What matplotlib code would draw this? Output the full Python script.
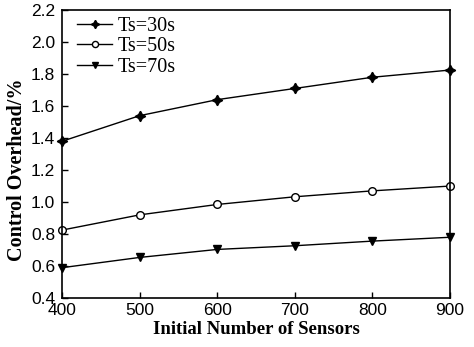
import matplotlib
matplotlib.use('Agg')
import matplotlib.pyplot as plt

sensors = [400, 500, 600, 700, 800, 900]
ts30 = [1.38, 1.54, 1.64, 1.71, 1.78, 1.825]
ts50 = [0.825, 0.92, 0.985, 1.033, 1.07, 1.10]
ts70 = [0.59, 0.654, 0.704, 0.727, 0.756, 0.78]
labels = ['Ts=30s', 'Ts=50s', 'Ts=70s']

fig = plt.figure(figsize=(4.74, 3.47), dpi=100)
ax = fig.add_axes([0.131, 0.141, 0.818, 0.83])

ax.plot(sensors, ts30, color='black', lw=1.0, marker=(4, 1, 0), ms=7.5, label=labels[0], clip_on=False)
ax.plot(sensors, ts50, color='black', lw=1.0, marker='o', ms=5.5, mfc='white', mew=1.0, label=labels[1], clip_on=False)
ax.plot(sensors, ts70, color='black', lw=1.0, marker='v', ms=6, label=labels[2], clip_on=False)

ax.set_xlim(400, 900)
ax.set_ylim(0.4, 2.2)
ax.set_xticks(sensors)
ax.set_yticks([0.4, 0.6, 0.8, 1.0, 1.2, 1.4, 1.6, 1.8, 2.0, 2.2])
ax.set_yticklabels(['0.4', '0.6', '0.8', '1.0', '1.2', '1.4', '1.6', '1.8', '2.0', '2.2'])
ax.tick_params(direction='in', length=4, width=1, top=False, right=False, labelsize=12.5)
ax.tick_params(axis='y', pad=5)
for t in ax.get_xticklabels() + ax.get_yticklabels():
    t.set_fontfamily('Liberation Sans')
for s in ax.spines.values():
    s.set_linewidth(1.2)

ax.set_xlabel('Initial Number of Sensors', fontfamily='Liberation Serif', fontweight='bold', fontsize=13.5, labelpad=2)
ax.set_ylabel('Control Overhead/%', fontfamily='Liberation Serif', fontweight='bold', fontsize=14.5)
ax.yaxis.set_label_coords(-0.09, 0.445)

leg = ax.legend(loc='upper left', frameon=False, prop={'family': 'Liberation Serif', 'size': 14.5},
                handlelength=1.75, labelspacing=0.05, borderaxespad=0.3, handletextpad=0.25,
                markerscale=0.8, bbox_to_anchor=(0.002, 1.024))

fig.savefig('out.png', dpi=100)
